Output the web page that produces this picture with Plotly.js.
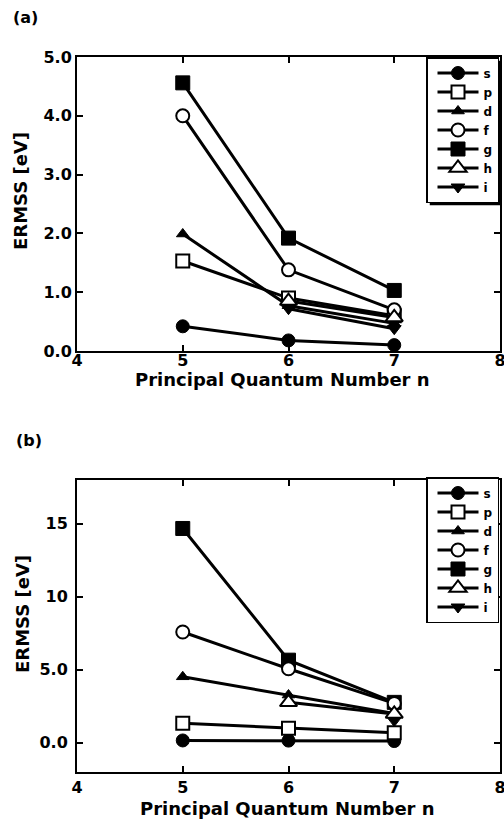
<!DOCTYPE html>
<html>
<head>
<meta charset="utf-8">
<script src="https://cdn.plot.ly/plotly-3.0.1.min.js"></script>
<style>html,body{margin:0;padding:0;background:#fff}#chart{width:504px;height:827px}</style>
</head>
<body>
<div id="chart"></div>
<script>
// ---- data ----
const n = [5, 6, 7];
const orbitals = ['s', 'p', 'd', 'f', 'g', 'h', 'i'];

// panel (a)
const aS = [0.42, 0.18, 0.10];
const aP = [1.53, 0.90, 0.60];
const aD = [1.99, 0.77, 0.47];
const aF = [4.00, 1.38, 0.70];
const aG = [4.56, 1.92, 1.03];
const aH = [null, 0.85, 0.57];
const aI = [null, 0.72, 0.38];

// panel (b)
const bS = [0.16, 0.15, 0.12];
const bP = [1.34, 1.00, 0.68];
const bD = [4.52, 3.27, 2.00];
const bF = [7.59, 5.07, 2.70];
const bG = [14.68, 5.66, 2.77];
const bH = [null, 2.77, 1.98];
const bI = [null, null, 1.52];

const xTicks = [4, 5, 6, 7, 8];
const aYTicks = [0, 1, 2, 3, 4, 5];
const aYLabels = ['0.0', '1.0', '2.0', '3.0', '4.0', '5.0'];
const bYTicks = [0, 5, 10, 15];
const bYLabels = ['0.0', '5.0', '10', '15'];

// ---- styles ----
const W = 504, H = 827;
const fx = p => p / W;
const fy = p => 1 - p / H;
const FONT = 'DejaVu Sans, Arial, sans-serif';

const markerStyles = {
  s: {symbol: 'circle', size: 13, color: 'black', line: {color: 'black', width: 1}},
  p: {symbol: 'square', size: 13, color: 'white', line: {color: 'black', width: 2}},
  d: {symbol: 'triangle-up', size: 11, color: 'black', line: {color: 'black', width: 1}},
  f: {symbol: 'circle', size: 13, color: 'white', line: {color: 'black', width: 2}},
  g: {symbol: 'square', size: 14, color: 'black', line: {color: 'black', width: 1}},
  h: {symbol: 'triangle-up', size: 15, color: 'white', line: {color: 'black', width: 2}},
  i: {symbol: 'triangle-down', size: 12, color: 'black', line: {color: 'black', width: 1}}
};

const aSeries = {s: aS, p: aP, d: aD, f: aF, g: aG, h: aH, i: aI};
const bSeries = {s: bS, p: bP, d: bD, f: bF, g: bG, h: bH, i: bI};

function makeTraces(series, xa, ya, leg, order) {
  return order.map(k => ({
    type: 'scatter', mode: 'lines+markers',
    x: n, y: series[k], name: k,
    xaxis: xa, yaxis: ya, legend: leg,
    legendrank: orbitals.indexOf(k) + 1,
    line: {color: 'black', width: 3},
    marker: markerStyles[k],
    cliponaxis: false
  }));
}

const data = [
  ...makeTraces(aSeries, 'x', 'y', 'legend', orbitals),
  ...makeTraces(bSeries, 'x2', 'y2', 'legend2', ['s', 'p', 'd', 'g', 'f', 'h', 'i'])
];

const axisCommon = {
  showline: true, linecolor: 'black', linewidth: 2, mirror: 'ticks',
  ticks: 'inside', ticklen: 6, tickwidth: 2, tickcolor: 'black',
  showgrid: false, zeroline: false, ticklabeloverflow: 'allow',
  tickfont: {family: FONT, size: 16, weight: 'bold', color: 'black'}
};

const xDomain = [fx(77), fx(500)];

const legendCommon = {
  xanchor: 'right', yanchor: 'top', x: fx(499),
  bgcolor: 'white', bordercolor: 'black', borderwidth: 1.5,
  font: {family: FONT, size: 12, weight: 'bold', color: 'black'},
  tracegroupgap: 0, itemwidth: 41, indentation: 5
};

const titleFont = {family: FONT, size: 18, weight: 'bold', color: 'black'};
const ann = (text, px, py, extra) => Object.assign({
  text: text, x: fx(px), y: fy(py), xref: 'paper', yref: 'paper',
  xanchor: 'center', yanchor: 'middle', showarrow: false, font: titleFont
}, extra || {});

const layout = {
  width: W, height: H,
  margin: {l: 0, r: 0, t: 0, b: 0},
  paper_bgcolor: 'white', plot_bgcolor: 'white',
  showlegend: true,
  xaxis: Object.assign({}, axisCommon, {domain: xDomain, range: [4, 8], tickvals: xTicks, anchor: 'y', ticklabelstandoff: -6}),
  yaxis: Object.assign({}, axisCommon, {domain: [fy(351), fy(57)], range: [0, 5], tickvals: aYTicks, ticktext: aYLabels, anchor: 'x'}),
  xaxis2: Object.assign({}, axisCommon, {domain: xDomain, range: [4, 8], tickvals: xTicks, anchor: 'y2'}),
  yaxis2: Object.assign({}, axisCommon, {domain: [fy(772), fy(480)], range: [-2, 18], tickvals: bYTicks, ticktext: bYLabels, anchor: 'x2', ticklabelstandoff: 4}),
  legend: Object.assign({}, legendCommon, {y: fy(57)}),
  legend2: Object.assign({}, legendCommon, {y: fy(477)}),
  annotations: [
    ann('(a)', 25, 18, {font: {family: FONT, size: 16, weight: 'bold', color: 'black'}}),
    ann('(b)', 29, 440, {font: {family: FONT, size: 16, weight: 'bold', color: 'black'}}),
    ann('Principal Quantum Number n', 282, 380),
    ann('Principal Quantum Number n', 287, 808),
    ann('ERMSS [eV]', 20, 191, {textangle: -90}),
    ann('ERMSS [eV]', 22, 614, {textangle: -90})
  ],
  shapes: []
};

Plotly.newPlot('chart', data, layout, {displayModeBar: false, staticPlot: true}).then(gd => {
  // drop shadow behind each legend box, sized from the drawn legend
  const root = gd.getBoundingClientRect();
  const shapes = [];
  gd.querySelectorAll('.legend rect.bg').forEach(bg => {
    const r = bg.getBoundingClientRect();
    const off = 3;
    shapes.push({
      type: 'rect', xref: 'paper', yref: 'paper', layer: 'above',
      x0: fx(r.left - root.left + off), x1: fx(r.right - root.left + off),
      y0: fy(r.bottom - root.top + off), y1: fy(r.top - root.top + off),
      fillcolor: 'black', line: {width: 0}
    });
  });
  return Plotly.relayout(gd, {shapes: shapes});
});
</script>
</body>
</html>
